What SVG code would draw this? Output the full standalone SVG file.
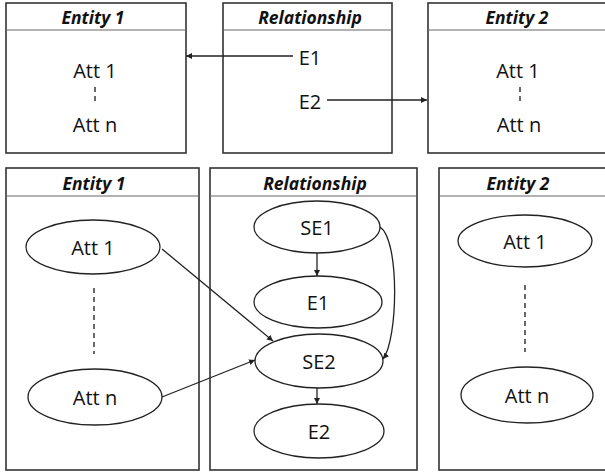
<svg xmlns="http://www.w3.org/2000/svg" width="605" height="472" viewBox="0 0 605 472">
<style>
.box{fill:#fff;stroke:#333;stroke-width:1.6}
.hd{stroke:#666;stroke-width:1}
.ttl{font-family:"Open Sans","Liberation Sans",sans-serif;font-weight:bold;font-style:italic;font-size:17.5px;text-anchor:middle;fill:#111}
.t{font-family:"Open Sans","Liberation Sans",sans-serif;font-size:20px;text-anchor:middle;fill:#111}
.el{fill:#fff;stroke:#222;stroke-width:1.3}
.dash{stroke:#444;stroke-width:1.6;stroke-dasharray:5,4;fill:none}
.c{stroke:#222;stroke-width:1.3;fill:none;marker-end:url(#ah)}
</style>
<defs>
<marker id="ah" viewBox="0 0 10 10" refX="10" refY="5" markerWidth="6" markerHeight="6" markerUnits="userSpaceOnUse" orient="auto">
<path d="M0,0 L10,5 L0,10 z" fill="#222"/>
</marker>
</defs>
<rect width="605" height="472" fill="#fff"/>

<g id="top-entity1">
<rect class="box" x="6" y="3" width="180" height="150"/>
<line class="hd" x1="6" y1="30" x2="186" y2="30"/>
<text class="ttl" x="93" y="24">Entity 1</text>
<text class="t" x="95" y="78">Att 1</text>
<line class="dash" x1="95" y1="87" x2="95" y2="104" stroke-dasharray="4,3"/>
<text class="t" x="95" y="132">Att n</text>
</g>

<g id="top-relationship">
<rect class="box" x="223" y="3" width="169" height="150"/>
<line class="hd" x1="223" y1="30" x2="392" y2="30"/>
<text class="ttl" x="310" y="24">Relationship</text>
<text class="t" x="310" y="65">E1</text>
<text class="t" x="310" y="109">E2</text>
</g>

<g id="top-entity2">
<rect class="box" x="428" y="3" width="180" height="150"/>
<line class="hd" x1="428" y1="30" x2="608" y2="30"/>
<text class="ttl" x="517" y="24">Entity 2</text>
<text class="t" x="518" y="78">Att 1</text>
<line class="dash" x1="520" y1="87" x2="520" y2="104" stroke-dasharray="4,3"/>
<text class="t" x="519" y="132">Att n</text>
</g>

<g id="bottom-entity1">
<rect class="box" x="6" y="168" width="193" height="302"/>
<line class="hd" x1="6" y1="196" x2="199" y2="196"/>
<text class="ttl" x="94" y="190">Entity 1</text>
<g id="b-e1-att1"><ellipse class="el" cx="93" cy="247" rx="67" ry="27"/><text class="t" x="93" y="255">Att 1</text></g>
<line class="dash" x1="94" y1="288" x2="94" y2="354"/>
<g id="b-e1-attn"><ellipse class="el" cx="95" cy="397" rx="67" ry="28"/><text class="t" x="95" y="405">Att n</text></g>
</g>

<g id="bottom-relationship">
<rect class="box" x="210" y="168" width="207" height="302"/>
<line class="hd" x1="210" y1="196" x2="417" y2="196"/>
<text class="ttl" x="315" y="190">Relationship</text>
<g id="SE1"><ellipse class="el" cx="317" cy="227" rx="63" ry="26"/><text class="t" x="317" y="235">SE1</text></g>
<g id="E1"><ellipse class="el" cx="318" cy="302" rx="64" ry="26"/><text class="t" x="318" y="310">E1</text></g>
<g id="SE2"><ellipse class="el" cx="319" cy="361" rx="64" ry="27"/><text class="t" x="319" y="369">SE2</text></g>
<g id="E2"><ellipse class="el" cx="319" cy="431" rx="65" ry="27"/><text class="t" x="319" y="439">E2</text></g>
</g>

<g id="bottom-entity2">
<rect class="box" x="439" y="168" width="170" height="302"/>
<line class="hd" x1="439" y1="196" x2="609" y2="196"/>
<text class="ttl" x="518" y="190">Entity 2</text>
<g id="b-e2-att1"><ellipse class="el" cx="525" cy="241" rx="67" ry="26"/><text class="t" x="525" y="249">Att 1</text></g>
<line class="dash" x1="525" y1="285" x2="525" y2="352"/>
<g id="b-e2-attn"><ellipse class="el" cx="527" cy="395" rx="66" ry="28"/><text class="t" x="527" y="403">Att n</text></g>
</g>

<g id="connectors">
<line class="c" x1="293" y1="56" x2="186" y2="56"/>
<line class="c" x1="327" y1="100" x2="427" y2="100"/>
<line class="c" x1="317" y1="253" x2="317" y2="276"/>
<line class="c" x1="317" y1="388" x2="317" y2="404"/>
<path class="c" d="M380,227 C400,240 398,340 383,359"/>
<line class="c" x1="162" y1="249" x2="273" y2="341"/>
<line class="c" x1="162" y1="397" x2="255" y2="360"/>
</g>
</svg>
